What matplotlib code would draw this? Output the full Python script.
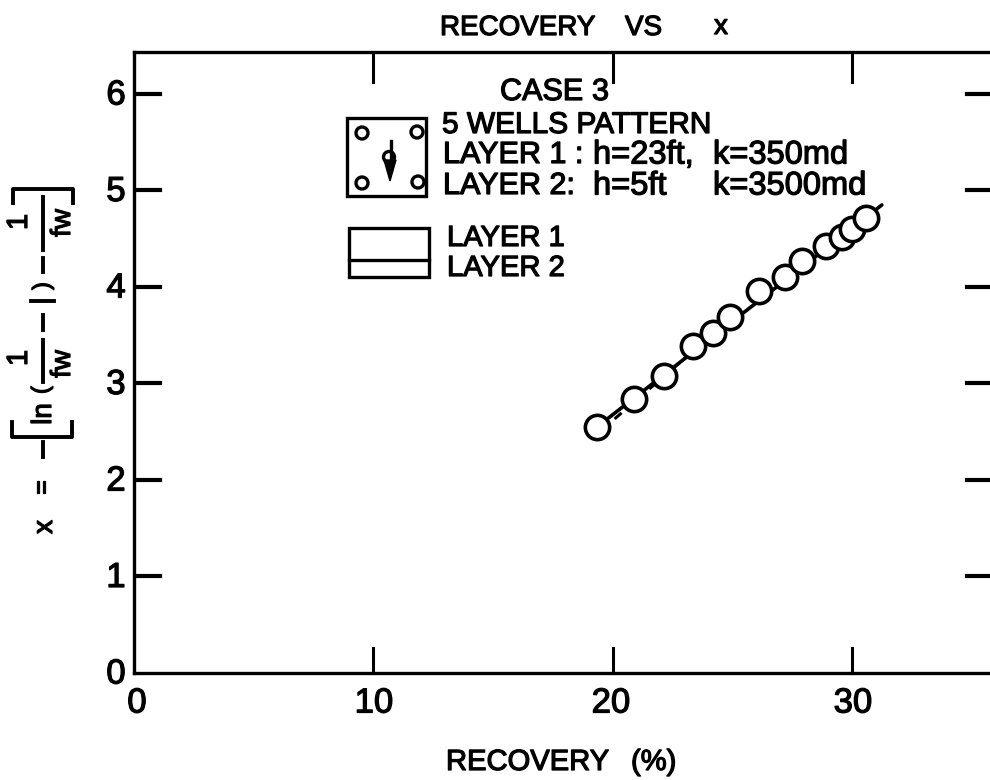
import numpy as np
import matplotlib
matplotlib.use("Agg")
import matplotlib.pyplot as plt
import matplotlib.patheffects as pe
from matplotlib.patches import Circle, Rectangle, Polygon

W, H = 990, 780

recovery = [19.35, 20.9, 22.15, 23.35, 24.2, 24.9, 26.1, 27.2, 27.9, 28.9, 29.6, 30.0, 30.6]
x_values = [2.55, 2.84, 3.08, 3.39, 3.52, 3.69, 3.96, 4.10, 4.27, 4.42, 4.52, 4.60, 4.72]
fit_x = [19.35, 31.25]
fit_y = [2.55, 4.85]
dash_x = [19.6, 23.2]
dash_y = [2.53, 3.30]

x_ticks = [0, 10, 20, 30]
y_ticks = [0, 1, 2, 3, 4, 5, 6]
inner_x_ticks = [10, 20, 30]
inner_y_ticks = [1, 2, 3, 4, 5, 6]

plt.rcParams['font.family'] = ['Liberation Sans', 'DejaVu Sans']

fig = plt.figure(figsize=(W / 100, H / 100), dpi=100)
ax = fig.add_axes([134 / W, (H - 673) / H, (W - 134) / W, (673 - 52) / H])
ax.set_xlim(0, 35.77)
ax.set_ylim(0, 6.435)
ax.spines['right'].set_visible(False)
for s in ['left', 'top', 'bottom']:
    ax.spines[s].set_linewidth(2.4)

ax.plot(fit_x, fit_y, color='black', lw=2.6, solid_capstyle='round', zorder=2)
ax.plot(dash_x, dash_y, color='black', lw=2.2, ls=(0, (3, 2)), zorder=2)
ax.plot(recovery, x_values, ls='none', marker='o', ms=17.5, mfc='white', mec='black', mew=2.6, zorder=3)

ax.set_xticks(x_ticks)
ax.set_yticks(y_ticks)
ax.set_xticklabels([])
ax.set_yticklabels([])
ax.tick_params(length=0)

# long inward ticks, all four sides (right side has no spine in the scan)
for v in inner_x_ticks:
    ax.plot([v, v], [0, 25 / 96.5], color='black', lw=2.2, clip_on=False)
    ax.plot([v, v], [6.435, 6.435 - 30 / 96.5], color='black', lw=2.2, clip_on=False)
for v in inner_y_ticks:
    ax.plot([0, 26 / 23.93], [v, v], color='black', lw=3)
    ax.plot([35.77 - 23 / 23.93, 35.77], [v, v], color='black', lw=3)

# overlay in image pixels for the hand lettering
ov = fig.add_axes([0, 0, 1, 1])
ov.set_xlim(0, W)
ov.set_ylim(H, 0)
ov.axis('off')
ov.patch.set_alpha(0)

ink = [pe.withStroke(linewidth=0.9, foreground='black')]


def label(px, py, s, size=22, ha='left', rot=0):
    ov.text(px, py, s, fontsize=size, ha=ha, va='center', rotation=rot, color='black', path_effects=ink)


for v, px in zip(x_ticks, [137, 374, 611, 853]):
    label(px, 703, str(v), size=25, ha='center')
for v in y_ticks:
    label(116, 673 - v * 96.5 + 1, str(v), size=25, ha='center')

label(440, 28, 'RECOVERY', size=20)
label(625, 28, 'VS', size=20)
label(714, 27, 'x', size=20)
label(446, 762, 'RECOVERY', size=21)
label(631, 762, '(%)', size=21)

label(500, 92, 'CASE')
label(592, 92, '3')
label(442, 125, '5 WELLS PATTERN', size=21.5)
label(443, 155, 'LAYER 1 :')
label(593, 155, 'h=23ft,', size=23.5)
label(713, 155, 'k=350md', size=23.5)
label(443, 186, 'LAYER 2:')
label(593, 186, 'h=5ft', size=23.5)
label(713, 186, 'k=3500md', size=23.5)
label(447, 238, 'LAYER 1', size=21)
label(447, 268, 'LAYER 2', size=21)

# well pattern icon
ov.add_patch(Rectangle((347, 118), 79, 78, fill=False, lw=2.4, ec='black'))
for cx, cy in [(362, 133), (417, 132), (362, 183), (418, 182)]:
    ov.add_patch(Circle((cx, cy), 6, fill=False, lw=2.4, ec='black'))
ov.add_patch(Polygon([[384, 160], [396, 160], [390, 181]], fc='black', ec='black'))
ov.add_patch(Circle((389, 157), 5.5, fill=False, lw=2.4, ec='black'))
ov.plot([391, 391], [141, 165], color='black', lw=2.4)

# layer sketch
ov.add_patch(Rectangle((349, 228), 80, 49, fill=False, lw=2.4, ec='black'))
ov.plot([349, 429], [260, 260], color='black', lw=2.4)

# y axis formula, lettered sideways
label(45, 527, 'x', size=20, ha='center', rot=90)
label(43, 487, '=', size=17, ha='center', rot=90)
ov.plot([43, 43], [442, 457], color='black', lw=2.8)
ov.plot([12, 12, 72, 72], [422, 437, 437, 422], color='black', lw=2.8)
label(44, 414, 'ln', size=20, ha='center', rot=90)
label(42, 390, '(', size=17, ha='center', rot=90)
ov.plot([43, 43], [340, 382], color='black', lw=2.8)
label(19, 358, '1', size=21, ha='center', rot=90)
label(63, 364, 'fw', size=20, ha='center', rot=90)
ov.plot([43, 43], [315, 330], color='black', lw=2.8)
ov.plot([31, 54], [301, 301], color='black', lw=2.8)
label(43, 286, ')', size=17, ha='center', rot=90)
ov.plot([43, 43], [258, 272], color='black', lw=2.8)
ov.plot([43, 43], [197, 250], color='black', lw=2.8)
label(19, 222, '1', size=21, ha='center', rot=90)
label(63, 223, 'fw', size=20, ha='center', rot=90)
ov.plot([13, 13, 73, 73], [203, 189, 189, 203], color='black', lw=2.8)

fig.savefig('out.png', dpi=100)
